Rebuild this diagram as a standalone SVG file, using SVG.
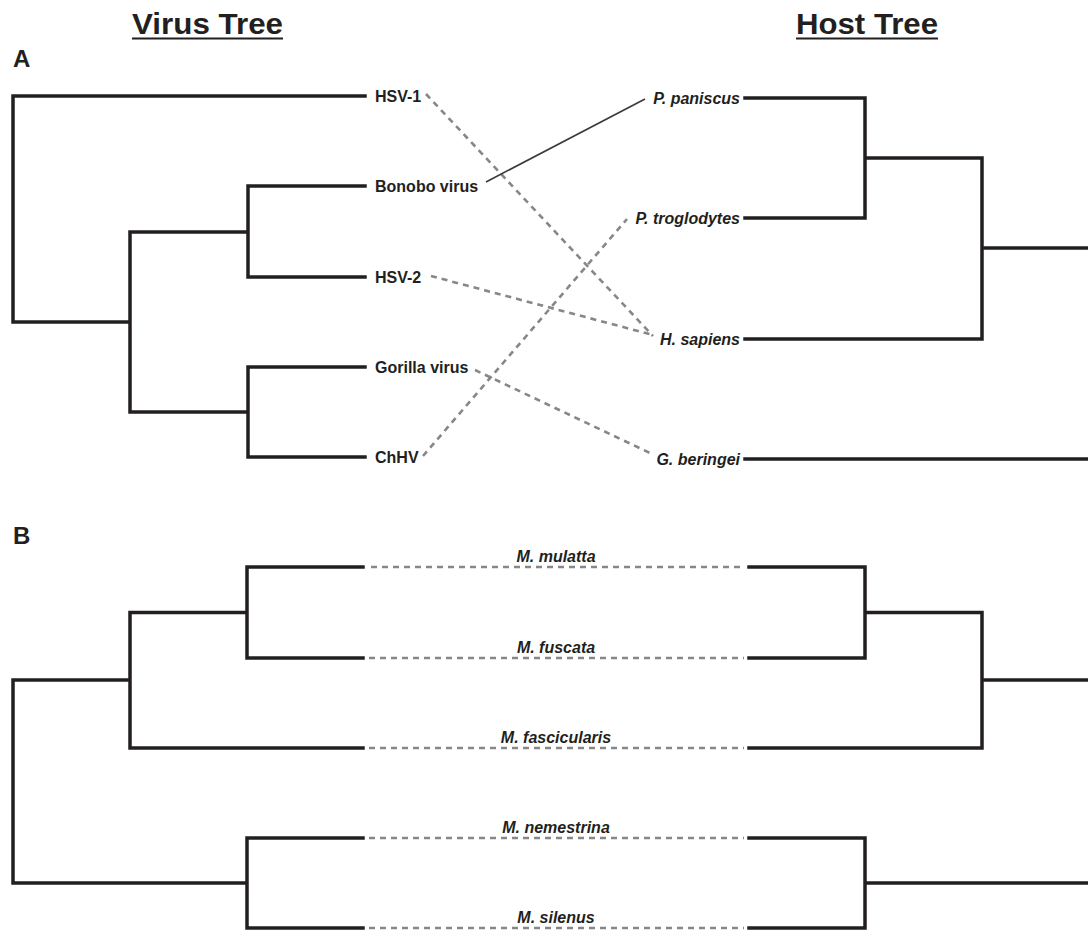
<svg xmlns="http://www.w3.org/2000/svg" width="1088" height="931" viewBox="0 0 1088 931">
<style>
.tree{fill:none;stroke:#231f20;stroke-width:3.5;stroke-linecap:square;stroke-linejoin:miter}
.dash{fill:none;stroke:#878787;stroke-width:2.6;stroke-dasharray:6 5}
.solid{fill:none;stroke:#3a3a3a;stroke-width:1.6}
.lab{font-family:"Liberation Sans",Arial,sans-serif;font-weight:bold;font-size:16px;fill:#231f20}
.host{font-style:italic}
.title{font-family:"Liberation Sans",Arial,sans-serif;font-weight:bold;font-size:30px;fill:#231f20}
.panel{font-family:"Liberation Sans",Arial,sans-serif;font-weight:bold;font-size:24px;fill:#231f20}
</style>
<rect width="1088" height="931" fill="#fff"/>
<g id="titles">
<text class="title" x="132" y="34" textLength="151" lengthAdjust="spacingAndGlyphs">Virus Tree</text>
<line x1="132" y1="38.5" x2="283" y2="38.5" stroke="#231f20" stroke-width="2"/>
<text class="title" x="796" y="34" textLength="142" lengthAdjust="spacingAndGlyphs">Host Tree</text>
<line x1="796" y1="38.5" x2="938" y2="38.5" stroke="#231f20" stroke-width="2"/>
<text class="panel" x="13" y="67">A</text>
<text class="panel" x="13" y="544">B</text>
</g>
<g id="virus-tree-A">
<path class="tree" d="M365,96 H13 V322 H130 V232 H248 V186 H365 M248,232 V277 H365 M130,322 V412 H248 V367 H365 M248,412 V457 H365"/>
</g>
<g id="host-tree-A">
<path class="tree" d="M745,98 H865 V218 H745 M865,158 H982 V339 H745 M982,248 H1090 M745,459 H1090"/>
</g>
<g id="virus-labels-A">
<text id="hsv1" class="lab" x="375" y="101.5">HSV-1</text>
<text id="bonobo" class="lab" x="375" y="191.5">Bonobo virus</text>
<text id="hsv2" class="lab" x="375" y="282.5">HSV-2</text>
<text id="gorilla" class="lab" x="375" y="372.5">Gorilla virus</text>
<text id="chhv" class="lab" x="375" y="462.5">ChHV</text>
</g>
<g id="host-labels-A">
<text id="ppaniscus" class="lab host" x="740" y="103.5" text-anchor="end">P. paniscus</text>
<text id="ptroglodytes" class="lab host" x="740" y="223.5" text-anchor="end">P. troglodytes</text>
<text id="hsapiens" class="lab host" x="740" y="344.5" text-anchor="end">H. sapiens</text>
<text id="gberingei" class="lab host" x="740" y="464.5" text-anchor="end">G. beringei</text>
</g>
<g id="connectors">
<line class="dash" x1="426" y1="94" x2="653" y2="336"/>
<line class="solid" x1="486" y1="182" x2="645" y2="99"/>
<line class="dash" x1="431" y1="276" x2="653" y2="335"/>
<line class="dash" x1="475" y1="370" x2="650" y2="453"/>
<line class="dash" x1="423" y1="456" x2="627" y2="219"/>
<line class="dash" x1="371" y1="567" x2="744" y2="567"/>
<line class="dash" x1="369" y1="658" x2="744" y2="658"/>
<line class="dash" x1="369" y1="748" x2="744" y2="748"/>
<line class="dash" x1="369" y1="838" x2="744" y2="838"/>
<line class="dash" x1="369" y1="928" x2="744" y2="928"/>
</g>
<g id="virus-tree-B">
<path class="tree" d="M363,567 H247 V658 H363 M247,612.5 H130 V748 H363 M130,680 H13 V883 H247 V838 H363 M247,883 V928 H363"/>
</g>
<g id="host-tree-B">
<path class="tree" d="M749,567 H865 V658 H749 M865,612.5 H982 V748 H749 M982,680 H1090 M749,838 H865 V928 H749 M865,883 H1090"/>
</g>
<g id="labels-B">
<text class="lab host" x="556" y="562" text-anchor="middle">M. mulatta</text>
<text class="lab host" x="556" y="653" text-anchor="middle">M. fuscata</text>
<text class="lab host" x="556" y="743" text-anchor="middle">M. fascicularis</text>
<text class="lab host" x="556" y="833" text-anchor="middle">M. nemestrina</text>
<text class="lab host" x="556" y="923" text-anchor="middle">M. silenus</text>
</g>
</svg>
